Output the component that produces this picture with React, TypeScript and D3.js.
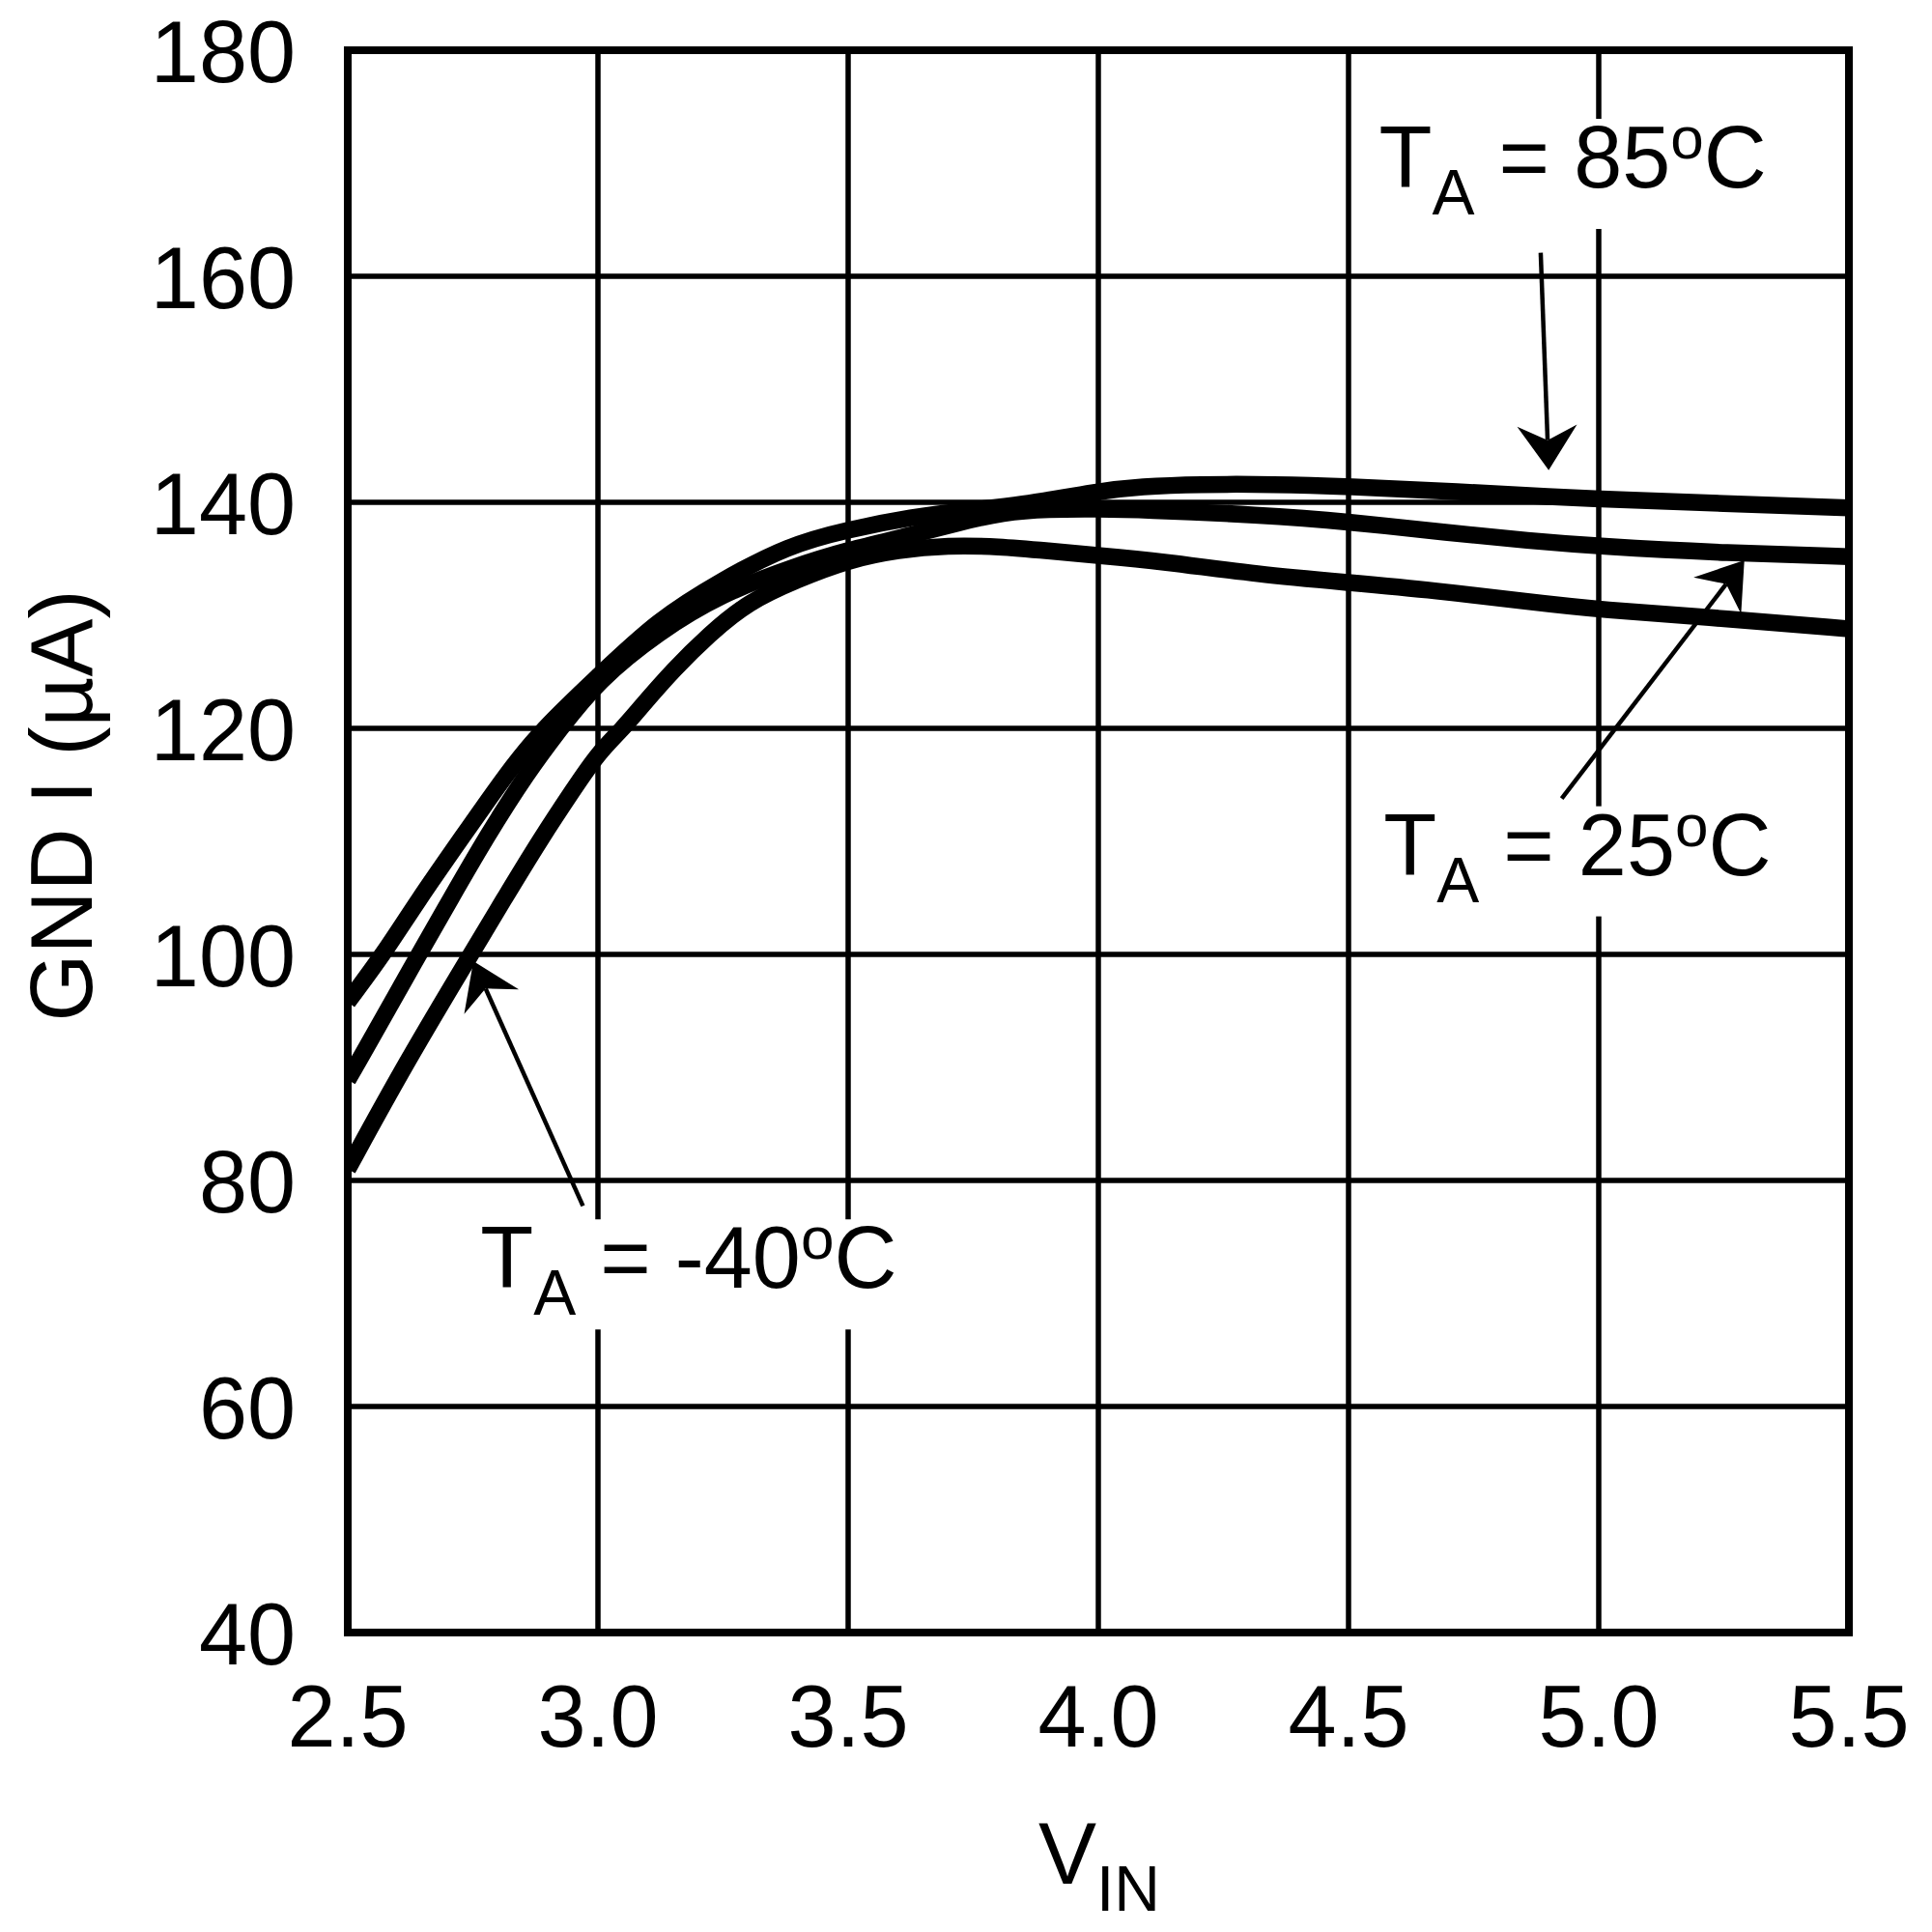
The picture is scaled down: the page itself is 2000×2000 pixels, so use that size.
import React from 'react';
import * as d3 from 'd3';

// ---- Data (V_IN in volts, GND current in µA) ----
const VIN_85 = [2.5, 2.571, 2.639, 2.729, 2.819, 2.89, 3.0, 3.119, 3.247, 3.38, 3.5, 3.628, 3.736, 3.84, 4.0, 4.085, 4.2, 4.35, 4.5, 4.7, 5.0, 5.25, 5.5];
const GND_85 = [95.8, 100, 104.7, 110.4, 116.1, 120, 124.6, 129.6, 133.1, 136.2, 137.6, 138.7, 139.3, 139.7, 141.0, 141.4, 141.6, 141.6, 141.4, 141.0, 140.25, 139.9, 139.5];

const VIN_25 = [2.5, 2.52, 2.642, 2.703, 2.777, 2.859, 2.925, 3.0, 3.12, 3.247, 3.39, 3.5, 3.628, 3.72, 3.81, 3.9, 4.0, 4.085, 4.322, 4.5, 4.7, 4.861, 5.0, 5.26, 5.5];
const GND_25 = [88.9, 90.4, 100, 104.7, 110.4, 116.1, 120, 124.2, 128.5, 131.9, 134.3, 135.8, 137.1, 138.2, 139.1, 139.4, 139.4, 139.35, 138.9, 138.3, 137.3, 136.6, 136.1, 135.5, 135.2];

const VIN_M40 = [2.5, 2.616, 2.746, 2.815, 2.888, 2.951, 3.0, 3.05, 3.086, 3.151, 3.222, 3.3, 3.4, 3.5, 3.6, 3.7, 3.8, 3.9, 4.0, 4.123, 4.322, 4.5, 4.674, 4.861, 5.0, 5.26, 5.5];
const GND_M40 = [81.0, 90.4, 100, 105.1, 110.4, 114.6, 117.8, 120, 121.9, 125.2, 128.3, 131.2, 133.2, 134.9, 135.8, 136.2, 136.1, 135.7, 135.3, 134.8, 133.6, 132.9, 132.2, 131.2, 130.5, 129.7, 128.8];

const X_TICKS = [2.5, 3.0, 3.5, 4.0, 4.5, 5.0, 5.5];
const Y_TICKS = [40, 60, 80, 100, 120, 140, 160, 180];

const TEMP_LABELS = ['85', '25', '-40'];
// label anchor (V, µA) and arrow from/to (V, µA)
const LABEL_POS: [number, number][] = [[4.561, 167.86], [4.570, 107.04], [2.765, 70.49]];
const ARROW_FROM: [number, number][] = [[4.884, 162.08], [4.926, 113.79], [2.970, 77.75]];
const ARROW_TO: [number, number][] = [[4.900, 142.85], [5.291, 134.87], [2.751, 99.4]];
const BOX_W = [420, 420, 445];

const FONT = '"Liberation Sans", Arial, Helvetica, sans-serif';

export default function App() {
  const left = 360, right = 1914, top = 52, bottom = 1690;
  const x = d3.scaleLinear().domain([2.5, 5.5]).range([left, right]);
  const y = d3.scaleLinear().domain([40, 180]).range([bottom, top]);

  const series = [
    { vin: VIN_85, gnd: GND_85 },
    { vin: VIN_25, gnd: GND_25 },
    { vin: VIN_M40, gnd: GND_M40 },
  ];
  const line = d3
    .line<[number, number]>()
    .x((d) => x(d[0]))
    .y((d) => y(d[1]))
    .curve(d3.curveBasis);

  const arrowHead = (from: [number, number], to: [number, number]) => {
    const x0 = x(from[0]), y0 = y(from[1]);
    const x1 = x(to[0]), y1 = y(to[1]);
    const dx = x1 - x0, dy = y1 - y0;
    const len = Math.hypot(dx, dy);
    const ux = dx / len, uy = dy / len;
    const px = -uy, py = ux;
    const back = 46, half = 31, notch = 31;
    const w1 = [x1 - ux * back + px * half, y1 - uy * back + py * half];
    const w2 = [x1 - ux * back - px * half, y1 - uy * back - py * half];
    const n = [x1 - ux * notch, y1 - uy * notch];
    return {
      line: { x1: x0, y1: y0, x2: n[0], y2: n[1] },
      head: `M${x1},${y1}L${w1[0]},${w1[1]}L${n[0]},${n[1]}L${w2[0]},${w2[1]}Z`,
    };
  };

  return (
    <div style={{ position: 'absolute', left: 0, top: 0 }}>
      <svg width={2000} height={2000} viewBox="0 0 2000 2000" style={{ display: 'block', background: '#fff' }} fontFamily={FONT}>
        <defs>
          <clipPath id="plotClip">
            <rect x={left} y={top} width={right - left} height={bottom - top} />
          </clipPath>
        </defs>
        <rect x={0} y={0} width={2000} height={2000} fill="#fff" />

        {/* grid */}
        {X_TICKS.map((t) => (
          <line key={'gx' + t} x1={x(t)} x2={x(t)} y1={top} y2={bottom} stroke="#000" strokeWidth={5.5} />
        ))}
        {Y_TICKS.map((t) => (
          <line key={'gy' + t} x1={left} x2={right} y1={y(t)} y2={y(t)} stroke="#000" strokeWidth={5.5} />
        ))}

        {/* label backgrounds */}
        {LABEL_POS.map((p, i) => (
          <rect key={'bg' + i} x={x(p[0]) - 10} y={y(p[1]) - 71} width={BOX_W[i]} height={114} fill="#fff" />
        ))}

        {/* curves */}
        <g clipPath="url(#plotClip)">
          {series.map((s, i) => (
            <path
              key={'s' + i}
              d={line(s.vin.map((v, j) => [v, s.gnd[j]] as [number, number])) || ''}
              fill="none"
              stroke="#000"
              strokeWidth={17.5}
              strokeLinejoin="round"
            />
          ))}
        </g>

        {/* frame */}
        <rect x={left} y={top} width={right - left} height={bottom - top} fill="none" stroke="#000" strokeWidth={8} />

        {/* arrows */}
        {ARROW_FROM.map((f, i) => {
          const a = arrowHead(f, ARROW_TO[i]);
          return (
            <g key={'ar' + i}>
              <line {...a.line} stroke="#000" strokeWidth={4.5} />
              <path d={a.head} fill="#000" />
            </g>
          );
        })}

        {/* labels */}
        {LABEL_POS.map((p, i) => (
          <text key={'lb' + i} x={x(p[0])} y={y(p[1])} fontSize={90} fill="#000" style={{ whiteSpace: 'pre' }}>
            <tspan>T</tspan>
            <tspan fontSize={66} dy={28}>A</tspan>
            <tspan dy={-28}>{' = ' + TEMP_LABELS[i]}</tspan>
            <tspan fontSize={62} dy={-30}>o</tspan>
            <tspan dy={30}>C</tspan>
          </text>
        ))}

        {/* tick labels */}
        {X_TICKS.map((t) => (
          <text key={'tx' + t} x={x(t)} y={1808} fontSize={90} textAnchor="middle" fill="#000">
            {t.toFixed(1)}
          </text>
        ))}
        {Y_TICKS.map((t) => (
          <text key={'ty' + t} x={306} y={y(t) + 32.5} fontSize={90} textAnchor="end" fill="#000">
            {String(t)}
          </text>
        ))}

        {/* axis titles */}
        <text x={1075} y={1950} fontSize={90} fill="#000">
          <tspan>V</tspan>
          <tspan fontSize={66} dy={28}>IN</tspan>
        </text>
        <text transform={`translate(95,${834}) rotate(-90)`} fontSize={90} textAnchor="middle" fill="#000">
          GND I (µA)
        </text>
      </svg>
    </div>
  );
}
